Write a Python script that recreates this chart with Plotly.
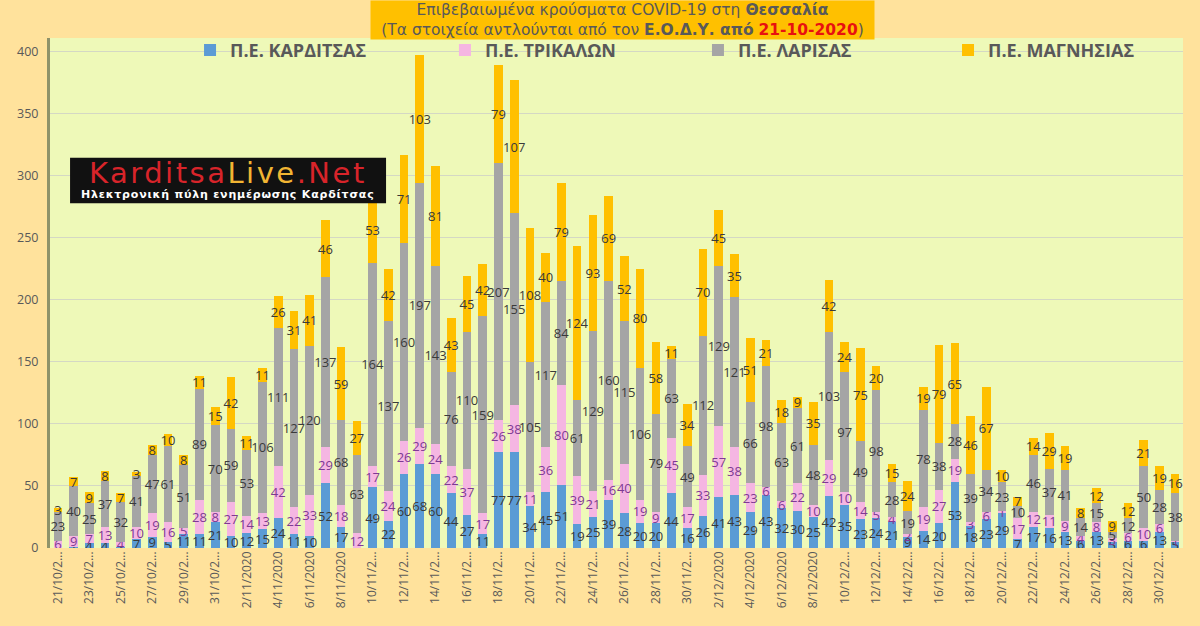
import plotly.graph_objects as go

# dates 21/10/2020 .. 31/12/2020
dates = ([f"{d}/10/2020" for d in range(21, 32)]
         + [f"{d}/11/2020" for d in range(1, 31)]
         + [f"{d}/12/2020" for d in range(1, 32)])

karditsa = [0, 1, 4, 4, 1, 7, 9, 5, 11, 11,
            21, 10, 12, 15, 24, 11, 10, 52, 17, 0,
            49, 22, 60, 68, 60, 44, 27, 11, 77, 77,
            34, 45, 51, 19, 25, 39, 28, 20, 20, 44,
            16, 26, 41, 43, 29, 43, 32, 30, 25, 42,
            35, 23, 24, 21, 9, 14, 20, 53, 18, 23,
            29, 7, 17, 16, 13, 6, 13, 5, 6, 6,
            13, 5]
trikala = [6, 9, 7, 13, 4, 10, 19, 16, 5, 28,
           8, 27, 14, 13, 42, 22, 33, 29, 18, 12,
           17, 24, 26, 29, 24, 22, 37, 17, 26, 38,
           11, 36, 80, 39, 21, 16, 40, 19, 9, 45,
           17, 33, 57, 38, 23, 6, 6, 22, 10, 29,
           10, 14, 5, 4, 2, 19, 27, 19, 3, 6,
           1, 17, 12, 11, 9, 4, 8, 3, 6, 10,
           6, 1]
larisa = [23, 40, 25, 37, 32, 41, 47, 61, 51, 89,
          70, 59, 53, 106, 111, 127, 120, 137, 68, 63,
          164, 137, 160, 197, 143, 76, 110, 159, 207, 155,
          105, 117, 84, 61, 129, 160, 115, 106, 79, 63,
          49, 112, 129, 121, 66, 98, 63, 61, 48, 103,
          97, 49, 98, 28, 19, 78, 38, 28, 39, 34,
          23, 10, 46, 37, 41, 14, 15, 5, 12, 50,
          28, 38]
magnisia = [3, 7, 9, 8, 7, 3, 8, 10, 8, 11,
            15, 42, 11, 11, 26, 31, 41, 46, 59, 27,
            53, 42, 71, 103, 81, 43, 45, 42, 79, 107,
            108, 40, 79, 124, 93, 69, 52, 80, 58, 11,
            34, 70, 45, 35, 51, 21, 18, 9, 35, 42,
            24, 75, 20, 15, 24, 19, 79, 65, 46, 67,
            10, 7, 14, 29, 19, 8, 12, 9, 12, 21,
            19, 16]

series = [
    ("Π.Ε. ΚΑΡΔΙΤΣΑΣ", karditsa, "#5B9BD5", "#3A3A3A"),
    ("Π.Ε. ΤΡΙΚΑΛΩΝ", trikala, "#F5B6E2", "#7E3A93"),
    ("Π.Ε. ΛΑΡΙΣΑΣ", larisa, "#A5A5A5", "#3A3A3A"),
    ("Π.Ε. ΜΑΓΝΗΣΙΑΣ", magnisia, "#FFC000", "#3A3A3A"),
]

# every second date on the axis, long ones cut like excel does
tick_vals = dates[::2]
tick_text = [d if len(d) <= 9 else d[:7] + "..." for d in tick_vals]

# one small legend per series so the entries sit where the original has them
legend_ids = ["legend", "legend2", "legend3", "legend4"]
legend_x = [0.1236, 0.3486, 0.5719, 0.7926]

fig = go.Figure()
for (name, vals, col, tcol), lid in zip(series, legend_ids):
    fig.add_trace(go.Bar(
        x=dates, y=vals, name=name, legend=lid,
        marker=dict(color=col, line=dict(width=0)),
        text=vals, textposition="inside", insidetextanchor="middle",
        constraintext="none", textangle=0,
        textfont=dict(family="Open Sans", size=13, color=tcol),
    ))

legend_font = dict(family="Open Sans", size=18, color="#595959", weight="bold")
legends = {}
for lid, lx in zip(legend_ids, legend_x):
    legends[lid] = dict(orientation="h", x=lx, y=0.976, xanchor="left",
                        yanchor="middle", bgcolor="rgba(0,0,0,0)", font=legend_font)

fig.update_layout(
    width=1200, height=626,
    barmode="stack", bargap=0.45,
    paper_bgcolor="#FFE29C",
    plot_bgcolor="#EEF9B8",
    margin=dict(l=50, r=17, t=38, b=78),
    showlegend=True,
    xaxis=dict(
        type="category", tickmode="array", tickvals=tick_vals, ticktext=tick_text,
        tickangle=-90, tickfont=dict(family="Open Sans", size=12, color="#595959"),
        showgrid=False, ticks="",
    ),
    yaxis=dict(
        range=[0, 411], tickmode="linear", tick0=0, dtick=50,
        tickfont=dict(family="Open Sans", size=12.5, color="#595959"),
        gridcolor="#D4D8C4", gridwidth=1,
        showline=True, linecolor="#8F936A", linewidth=3,
        zeroline=False, ticks="", ticklabelstandoff=6,
    ),
    **legends,
)

# title box
fig.add_annotation(
    xref="paper", yref="paper", x=0.5057, y=1.0, yshift=38,
    xanchor="center", yanchor="top", showarrow=False,
    text=("Επιβεβαιωμένα κρούσματα COVID-19 στη <b>Θεσσαλία</b><br>"
          "(Τα στοιχεία αντλούνται από τον <b>Ε.Ο.Δ.Υ. από</b> "
          "<b><span style='color:#E81010'>21-10-2020</span></b>)"),
    font=dict(family="DejaVu Sans", size=15.5, color="#595959"),
    bgcolor="#FFC000", borderpad=0, width=503,
)

# logo box
fig.add_shape(type="rect", xref="paper", yref="paper",
              x0=0.0177, x1=0.2966, y0=0.676, y1=0.765,
              fillcolor="#111111", line=dict(width=0), layer="above")
fig.add_annotation(
    xref="paper", yref="paper", x=0.157, y=0.735, xanchor="center", yanchor="middle",
    showarrow=False,
    text=("<span style='letter-spacing:2.5px'>"
          "<span style='color:#D8242A'>Karditsa</span>"
          "<span style='color:#F2B533'>Live</span>"
          "<span style='color:#D8242A'>.Net</span></span>"),
    font=dict(family="DejaVu Sans", size=29),
)
fig.add_annotation(
    xref="paper", yref="paper", x=0.157, y=0.693, xanchor="center", yanchor="middle",
    showarrow=False,
    text="<span style='letter-spacing:0.8px'><b>Ηλεκτρονική πύλη ενημέρωσης Καρδίτσας</b></span>",
    font=dict(family="DejaVu Sans", size=11, color="#FFFFFF"),
)

fig.write_html("out.html",
               config={"displayModeBar": False},
               post_script="document.body.style.margin='0';"
                           "document.body.style.background='#FFE29C';")
